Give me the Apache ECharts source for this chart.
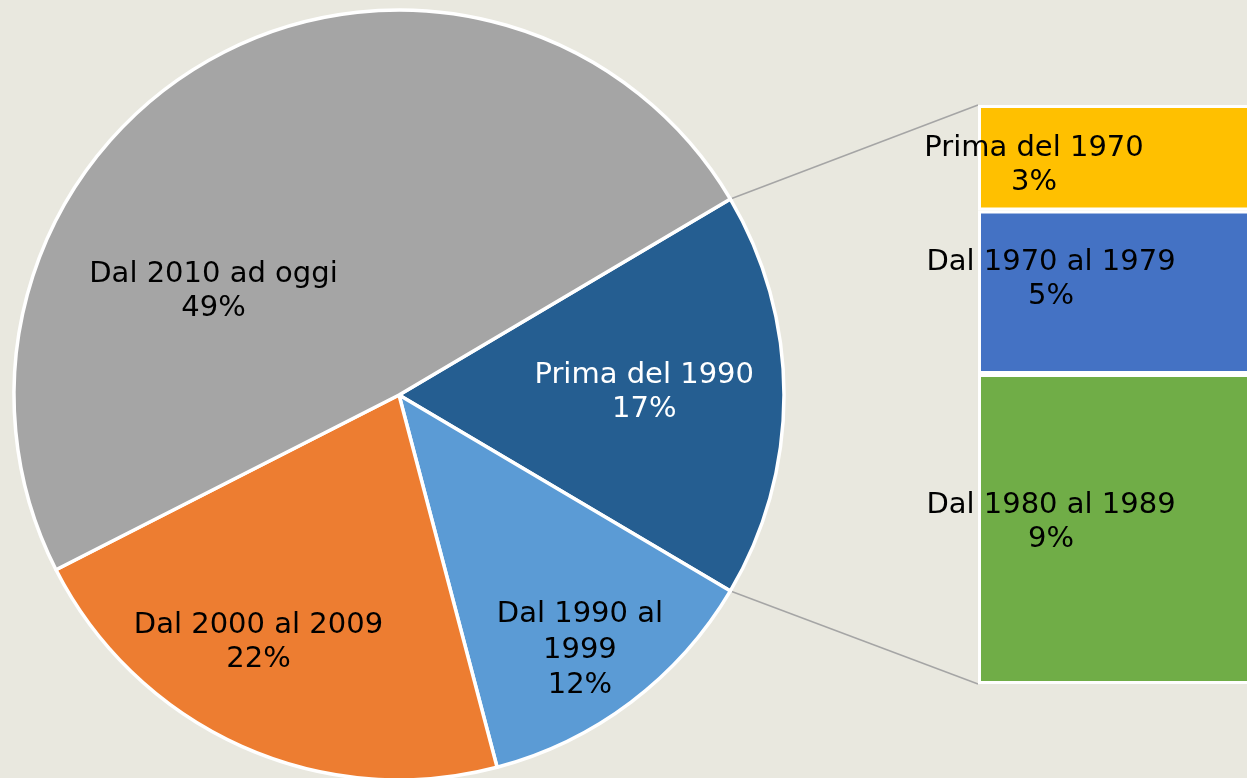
<!DOCTYPE html>
<html><head><meta charset="utf-8">
<script src="https://cdn.jsdelivr.net/npm/echarts@6/dist/echarts.min.js"></script>
<style>html,body{margin:0;padding:0;background:#E9E8DF;}#c{width:1247px;height:778px;}</style>
</head><body><div id="c"></div>
<script>
// ---- data ----
const pieCategories = ['Prima del 1990', 'Dal 1990 al 1999', 'Dal 2000 al 2009', 'Dal 2010 ad oggi'];
const pieValues = [17.0, 12.4, 21.6, 49.0];
const barCategories = ['Dal 1980 al 1989', 'Dal 1970 al 1979', 'Prima del 1970']; // bottom to top
const barValues = [9.1, 4.8, 3.1];

// ---- layout / style ----
const CX = 399, CY = 395, R = 385;
const GRID_LEFT = 978, GRID_TOP = 105, GRID_H = 579, GRID_W = 340;
const FONT = "'DejaVu Sans', Verdana, sans-serif";
const FS = 29, LH = 34;
const pieColors = ['#255E91', '#5B9BD5', '#ED7D31', '#A5A5A5'];
const barColors = ['#70AD47', '#4472C4', '#FFC000'];
// label placement for pie labels: [angle deg, fraction of radius]
const PIE_LABEL_POS = [[0.5, 0.637], [-54.69, 0.813], [-119.6, 0.739], [150.8, 0.552]];
// pie labels whose name wraps before the last word
const WRAP_LAST_WORD = [false, true, false, false];
// bar label anchor inside each segment: [px from left, % from top]
const BAR_LABEL_POS = [[73, '48%'], [73, '42%'], [56, '57%']];

const pieTotal = pieValues.reduce((a, b) => a + b, 0);
const barTotal = barValues.reduce((a, b) => a + b, 0);
const startAngle = 360 * pieValues[0] / pieTotal / 2;

const chart = echarts.init(document.getElementById('c'));

const pieData = pieCategories.map((n, i) => {
  const d = { name: n, value: pieValues[i], itemStyle: { color: pieColors[i] } };
  if (i === 0) d.label = { color: '#FFFFFF' };
  if (WRAP_LAST_WORD[i]) d.label = { lineHeight: 35.5 };
  return d;
});

const barSeries = barCategories.map((n, i) => ({
  type: 'bar', name: n, stack: 'sub', barWidth: '100%',
  data: [barValues[i]],
  itemStyle: { color: barColors[i], borderColor: '#FFFFFF', borderWidth: 3 },
  label: {
    show: true, position: BAR_LABEL_POS[i], align: 'center', verticalAlign: 'middle',
    fontFamily: FONT, fontSize: FS, lineHeight: LH, color: '#000000',
    formatter: p => p.seriesName + '\n' + Math.round(p.value) + '%'
  },
  emphasis: { disabled: true }, silent: true, animation: false
}));

const a0 = startAngle * Math.PI / 180;
const a1 = (startAngle - 360 * pieValues[0] / pieTotal) * Math.PI / 180;

chart.setOption({
  backgroundColor: '#E9E8DF',
  animation: false,
  grid: { left: GRID_LEFT, top: GRID_TOP, width: GRID_W, height: GRID_H, outerBoundsMode: 'none', containLabel: false },
  xAxis: { type: 'category', data: [''], show: false },
  yAxis: { type: 'value', min: 0, max: barTotal, show: false },
  graphic: [
    { type: 'line', z: -1, shape: { x1: CX + R * Math.cos(a0), y1: CY - R * Math.sin(a0), x2: GRID_LEFT, y2: GRID_TOP },
      style: { stroke: '#A5A5A5', lineWidth: 1.5 } },
    { type: 'line', z: -1, shape: { x1: CX + R * Math.cos(a1), y1: CY - R * Math.sin(a1), x2: GRID_LEFT, y2: GRID_TOP + GRID_H },
      style: { stroke: '#A5A5A5', lineWidth: 1.5 } }
  ],
  series: [
    {
      type: 'pie', center: [CX, CY], radius: R, startAngle: startAngle, clockwise: true,
      data: pieData, silent: true, animation: false,
      itemStyle: { borderColor: '#FFFFFF', borderWidth: 3.5 },
      label: {
        show: true, position: 'inside', fontFamily: FONT, fontSize: FS, lineHeight: LH,
        color: '#000000', align: 'center', verticalAlign: 'middle',
        formatter: p => {
          const name = WRAP_LAST_WORD[p.dataIndex] ? p.name.replace(/ (\S+)$/, '\n$1') : p.name;
          return name + '\n' + Math.round(p.value / pieTotal * 100) + '%';
        }
      },
      labelLine: { show: false },
      labelLayout: function (params) {
        const pos = PIE_LABEL_POS[params.dataIndex];
        const a = pos[0] * Math.PI / 180;
        return { x: CX + pos[1] * R * Math.cos(a), y: CY - pos[1] * R * Math.sin(a) };
      }
    }
  ].concat(barSeries)
});
</script></body></html>
